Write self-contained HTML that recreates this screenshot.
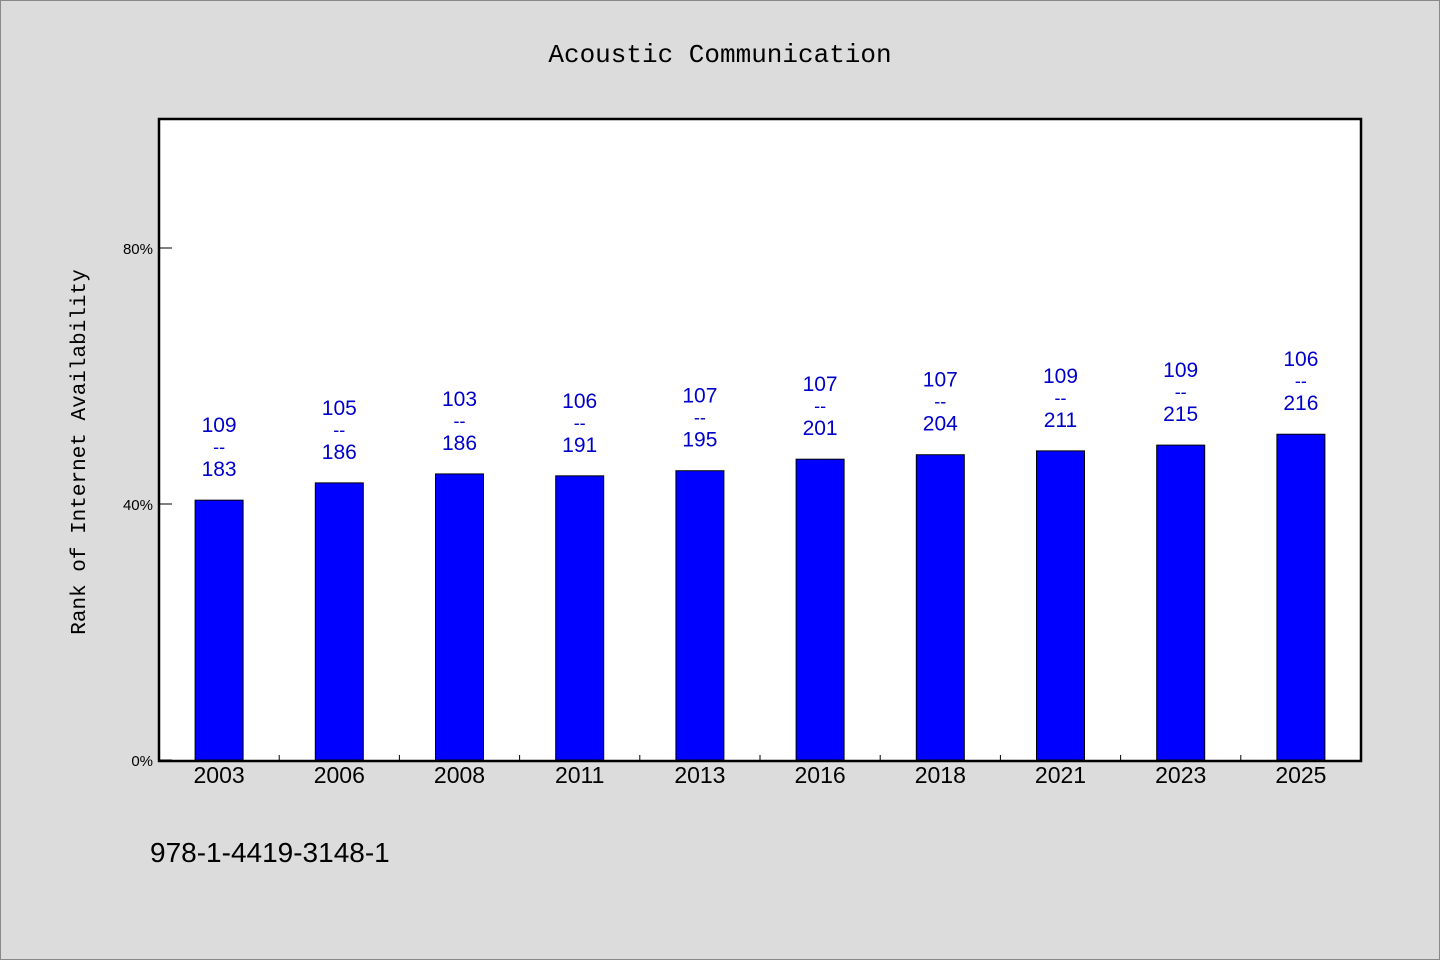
<!DOCTYPE html>
<html><head><meta charset="utf-8"><style>
body{margin:0;background:#dcdcdc;}
svg{display:block;font-family:"Liberation Sans","WenQuanYi Zen Hei",sans-serif;}
</style></head><body>
<svg id="c" width="1440" height="960">
<rect x="0.5" y="0.5" width="1439" height="959" fill="#dcdcdc" stroke="#888"/>
<text x="720" y="62" text-anchor="middle" font-size="26" font-family="'Liberation Mono',monospace">Acoustic Communication</text>
<rect x="159" y="119" width="1202" height="642" fill="#fff" stroke="#000" stroke-width="2.5"/>
<text transform="translate(85,452) rotate(-90)" text-anchor="middle" font-size="21" font-family="'Liberation Mono',monospace">Rank of Internet Availability</text>
<text x="150" y="862" font-size="28">978-1-4419-3148-1</text>
<g id="g"></g>
</svg>
<script>
const categories=["2003","2006","2008","2011","2013","2016","2018","2021","2023","2025"];
const values=[40.6,43.3,44.7,44.4,45.2,47.0,47.7,48.3,49.2,50.9];
const topLabels=["109","105","103","106","107","107","107","109","109","106"];
const bottomLabels=["183","186","186","191","195","201","204","211","215","216"];
const yTicks=[0,40,80];
const NS="http://www.w3.org/2000/svg";
const g=document.getElementById("g");
const x0=159,w=1202,y0=760,pxPer=6.4;
const band=w/categories.length;
const xc=i=>x0+band*(i+0.5);
const ys=v=>y0-v*pxPer;
function mk(t,a,txt){const e=document.createElementNS(NS,t);for(const k in a)e.setAttribute(k,a[k]);if(txt!==undefined)e.textContent=txt;g.appendChild(e);return e;}
yTicks.forEach(t=>{
 const l=mk("line",{x1:x0,x2:x0+13,y1:ys(t),y2:ys(t),stroke:"#000"});
 
 
 const tx=mk("text",{x:153,y:ys(t)+6,"text-anchor":"end","font-size":"15"},t+"%");
 
 
});
categories.forEach((c,i)=>{
 if(i>0){const tk=mk("line",{x1:x0+band*i,x2:x0+band*i,y1:y0,y2:y0-5,stroke:"#000"});
 
 }
 const b=mk("rect",{x:xc(i)-24,y:ys(values[i]),width:48,height:values[i]*pxPer,fill:"#0000ff",stroke:"#000","stroke-width":"1"});
 
 
 const top=ys(values[i]);
 const t1=mk("text",{x:xc(i),y:top-68,"text-anchor":"middle","font-size":"21",fill:"#0000cc"},topLabels[i]);
 
 
 const t2=mk("text",{x:xc(i),y:top-47,"text-anchor":"middle","font-size":"18",fill:"#0000cc"},"--");
 
 
 const t3=mk("text",{x:xc(i),y:top-24,"text-anchor":"middle","font-size":"21",fill:"#0000cc"},bottomLabels[i]);
 
 
 const xl=mk("text",{x:xc(i),y:783,"text-anchor":"middle","font-size":"23"},c);
 
 
});
</script>
</body></html>
